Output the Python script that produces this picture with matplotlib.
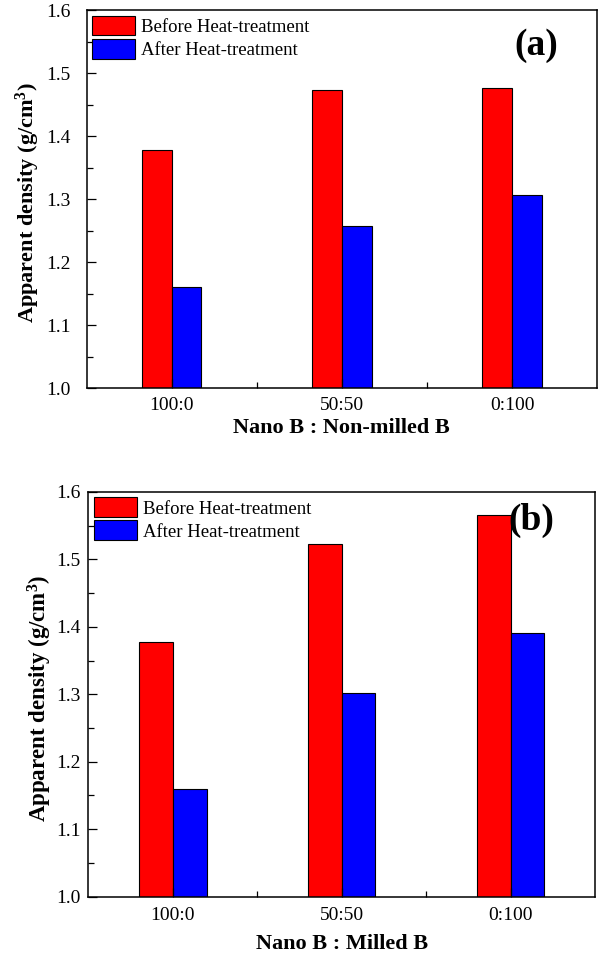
import matplotlib.pyplot as plt
from matplotlib.ticker import MultipleLocator, FixedLocator
import numpy as np

plt.rcParams['font.family'] = ['Liberation Serif', 'DejaVu Serif']
plt.rcParams['mathtext.fontset'] = 'custom'
plt.rcParams['mathtext.bf'] = 'Liberation Serif:bold'
plt.rcParams['mathtext.rm'] = 'Liberation Serif:bold'
plt.rcParams['mathtext.default'] = 'bf'

ratios = ['100:0', '50:50', '0:100']
before_a = [1.378, 1.473, 1.477]
after_a = [1.160, 1.257, 1.307]
before_b = [1.378, 1.522, 1.566]
after_b = [1.159, 1.302, 1.391]

# tag, x label, before, after, axes rect, bar width, tag pos,
# ytick pad, xtick pad, xlabel pad, ylabel x, ylabel size
panels = [
    ('(a)', 'Nano B : Non-milled B', before_a, after_a,
     [0.1442, 0.5941, 0.851, 0.3954], 0.175, (0.880, 0.907),
     11.5, 6.5, 3, -0.087, 16),
    ('(b)', 'Nano B : Milled B', before_b, after_b,
     [0.1472, 0.0620, 0.8445, 0.4236], 0.20, (0.874, 0.929),
     5.5, 7.5, 7, -0.067, 16.5),
]

fig = plt.figure(figsize=(6, 9.56), dpi=100)
x = np.arange(len(ratios))

for tag, xlabel, before, after, rect, w, tpos, ypad, xpad, xlpad, ylx, ylsize in panels:
    ax = fig.add_axes(rect)
    ax.bar(x - w / 2, before, w, color='#ff0000', edgecolor='black',
           linewidth=0.8, label='Before Heat-treatment')
    ax.bar(x + w / 2, after, w, color='#0000ff', edgecolor='black',
           linewidth=0.8, label='After Heat-treatment')
    ax.set_xlim(-0.5, 2.5)
    ax.set_ylim(1.0, 1.6)
    ax.set_xticks(x)
    ax.set_xticklabels(ratios)
    ax.xaxis.set_minor_locator(FixedLocator([0.5, 1.5]))
    ax.yaxis.set_major_locator(MultipleLocator(0.1))
    ax.yaxis.set_minor_locator(MultipleLocator(0.05))
    ax.yaxis.set_major_formatter(plt.FormatStrFormatter('%.1f'))
    ax.tick_params(which='major', direction='in', length=6.5, width=0.9, labelsize=14)
    ax.tick_params(which='minor', direction='in', length=4, width=0.9)
    ax.tick_params(axis='x', which='major', pad=xpad)
    ax.tick_params(axis='y', which='major', pad=ypad)
    for s in ax.spines.values():
        s.set_linewidth(1.1)
    ax.set_xlabel(xlabel, fontsize=16, fontweight='bold', labelpad=xlpad)
    ax.set_ylabel('Apparent density (g/cm$^3$)', fontsize=ylsize, fontweight='bold')
    ax.yaxis.set_label_coords(ylx, 0.49)
    ax.text(tpos[0], tpos[1], tag, transform=ax.transAxes, ha='center', va='center',
            fontsize=27, fontweight='bold')
    ax.legend(loc='upper left', fontsize=13.5, frameon=False,
              handlelength=2.3, handleheight=1.25, labelspacing=0.15,
              borderpad=0.0, handletextpad=0.3, borderaxespad=0.3)

fig.savefig('out.png', dpi=100)
